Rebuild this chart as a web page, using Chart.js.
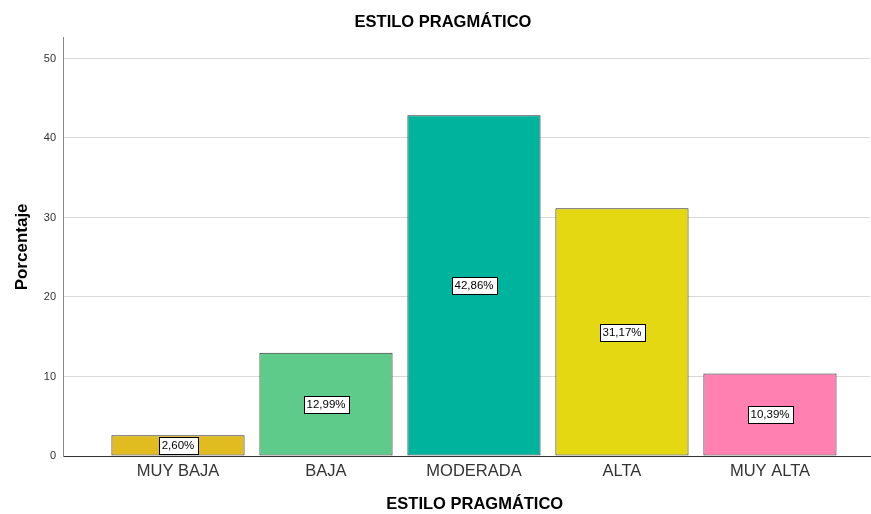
<!DOCTYPE html>
<html>
<head>
<meta charset="utf-8">
<script src="https://cdn.jsdelivr.net/npm/chart.js@4"></script>
<style>
  html, body { margin: 0; padding: 0; background: #fff; }
  #wrap { width: 871px; height: 514px; }
</style>
</head>
<body>
<div id="wrap"><canvas id="chart"></canvas></div>
<script>
// data
const categories = ["MUY BAJA", "BAJA", "MODERADA", "ALTA", "MUY ALTA"];
const percentages = [2.60, 12.99, 42.86, 31.17, 10.39];
const barLabels = ["2,60%", "12,99%", "42,86%", "31,17%", "10,39%"];
const barColors = ["#E1BC21", "#5ECB8B", "#00B39D", "#E3D811", "#FF80B1"];
const yTicks = [0, 10, 20, 30, 40, 50];

const FONT = "Arial, 'Liberation Sans', sans-serif";

// white boxed labels in the middle of each bar
const boxLabels = {
  id: "boxLabels",
  afterDatasetsDraw(chart) {
    const ctx = chart.ctx;
    const meta = chart.getDatasetMeta(0);
    ctx.save();
    ctx.font = "11.5px " + FONT;
    ctx.textAlign = "center";
    ctx.textBaseline = "middle";
    meta.data.forEach((bar, i) => {
      const cx = Math.round(bar.x);
      const cy = Math.round((bar.y + bar.base) / 2);
      const w = Math.round(ctx.measureText(barLabels[i]).width) + 6;
      const h = 17;
      const x0 = Math.round(cx - w / 2) + 0.5;
      const y0 = Math.round(cy - h / 2) + 0.5;
      ctx.fillStyle = "#fff";
      ctx.fillRect(x0, y0, w, h);
      ctx.strokeStyle = "#000";
      ctx.lineWidth = 1;
      ctx.strokeRect(x0, y0, w, h);
      ctx.fillStyle = "#000";
      ctx.fillText(barLabels[i], cx, cy + 1);
    });
    ctx.restore();
  }
};

new Chart(document.getElementById("chart"), {
  type: "bar",
  data: {
    datasets: [{
      data: percentages.map((v, i) => ({ x: i, y: v })),
      backgroundColor: barColors,
      borderColor: "#2E2E2E",
      borderWidth: 1,
      borderSkipped: false,
      categoryPercentage: 1,
      barPercentage: 0.9
    }]
  },
  options: {
    responsive: true,
    maintainAspectRatio: false,
    animation: false,
    // left padding moves the top title to the right, y axis width makes up for it
    layout: { padding: { left: 16, right: 1, top: 0, bottom: 0 } },
    plugins: {
      legend: { display: false },
      tooltip: { enabled: false },
      title: {
        display: true,
        text: "ESTILO PRAGMÁTICO",
        color: "#000",
        font: { family: FONT, size: 16.5, weight: "bold" },
        padding: { top: 13, bottom: 5 }
      }
    },
    scales: {
      x: {
        type: "linear",
        offset: false,
        min: -0.777,
        max: 4.676,
        afterBuildTicks: (scale) => {
          scale.ticks = categories.map((c, i) => ({ value: i }));
        },
        afterFit: (scale) => { scale.height = 58; },
        grid: { display: false, drawTicks: false, offset: false },
        border: { display: true, color: "#333", width: 1 },
        ticks: {
          padding: 6,
          color: "#333",
          font: { family: FONT, size: 16.5 },
          callback: (v) => categories[v]
        },
        title: {
          display: true,
          text: "\u2003ESTILO PRAGMÁTICO",
          color: "#000",
          font: { family: FONT, size: 16.5, weight: "bold" },
          padding: { top: 0, bottom: 0 }
        }
      },
      y: {
        min: 0,
        max: 52.6,
        afterBuildTicks: (scale) => {
          scale.ticks = yTicks.map((v) => ({ value: v }));
        },
        afterFit: (scale) => { scale.width = 47; },
        grid: { color: "#D9D9D9", lineWidth: 1, drawTicks: false },
        border: { display: true, color: "#888", width: 1 },
        ticks: {
          padding: 7,
          color: "#333",
          font: { family: FONT, size: 11 }
        },
        title: {
          display: true,
          text: "Porcentaje",
          color: "#000",
          font: { family: FONT, size: 17, weight: "bold" },
          padding: { top: -4, bottom: 0 }
        }
      }
    }
  },
  plugins: [boxLabels]
});
</script>
</body>
</html>
